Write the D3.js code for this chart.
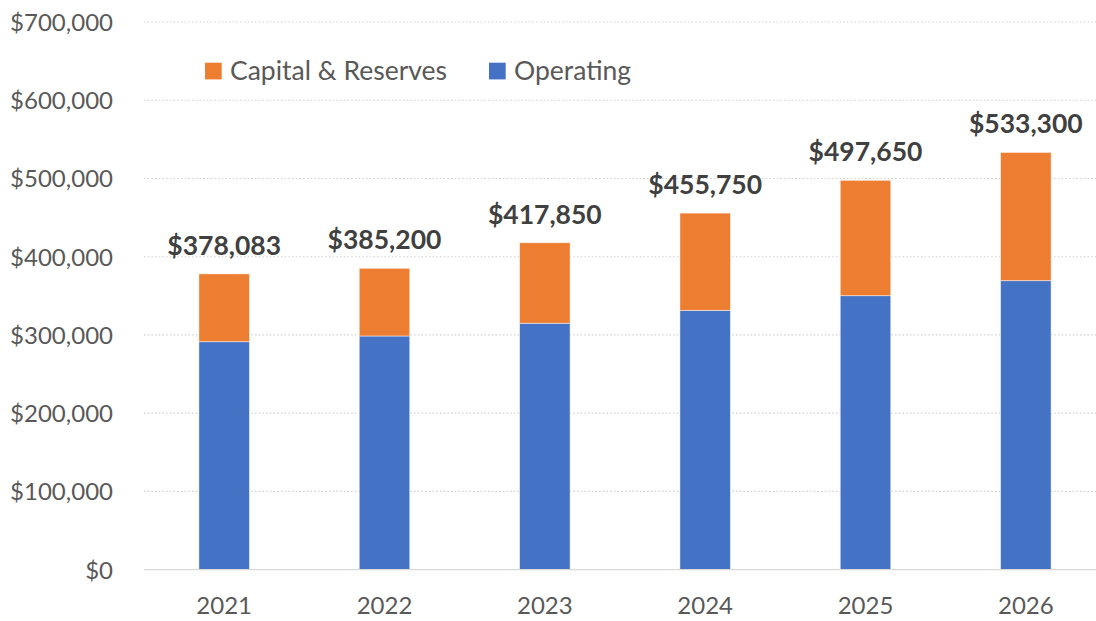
<!DOCTYPE html>
<html>
<head>
<meta charset="utf-8">
<script src="https://cdn.jsdelivr.net/npm/d3@7"></script>
<style>
  html, body { margin: 0; padding: 0; background: #fff; }
  svg { display: block; }
</style>
</head>
<body>
<svg id="chart" width="1096" height="621"></svg>
<script>
const years = ["2021", "2022", "2023", "2024", "2025", "2026"];
const operating = [291400, 298700, 315000, 331500, 350200, 369400];
const capital = [86683, 86500, 102850, 124250, 147450, 163900];
const totalLabels = ["$378,083", "$385,200", "$417,850", "$455,750", "$497,650", "$533,300"];
const yTicks = [0, 100000, 200000, 300000, 400000, 500000, 600000, 700000];
const seriesNames = ["Capital & Reserves", "Operating"];
const seriesColors = { "Operating": "#4472C4", "Capital & Reserves": "#ED7D31" };

(function () {
const svg = d3.select("#chart");
const font = "Lato, 'Open Sans', sans-serif";

const x = d3.scaleBand().domain(years).range([144, 1106]).paddingInner(0.685).paddingOuter(0.3425);
const y = d3.scaleLinear().domain([0, 700000]).range([569.7, 22]);

// gridlines
svg.append("g").selectAll("line").data(yTicks.filter(d => d > 0)).join("line")
  .attr("x1", 144).attr("x2", 1106)
  .attr("y1", d => y(d)).attr("y2", d => y(d))
  .attr("stroke", "#D0D0D0").attr("stroke-width", 1.2)
  .attr("stroke-dasharray", "1.5,2.2");

// y axis labels
const yAxis = d3.axisLeft(y).tickValues(yTicks).tickSize(0).tickPadding(0)
  .tickFormat(d => "$" + d3.format(",")(d));
const gy = svg.append("g").attr("transform", "translate(113,0)").call(yAxis);
gy.select(".domain").remove();
gy.selectAll("text").attr("font-family", font).attr("font-size", "24px")
  .attr("fill", "#595959").attr("dy", "0.35em");

// data
const rows = years.map((yr, i) => ({ year: yr, "Operating": operating[i], "Capital & Reserves": capital[i], label: totalLabels[i] }));
const stack = d3.stack().keys(["Operating", "Capital & Reserves"]);
const stacked = stack(rows);

svg.append("g").selectAll("g").data(stacked).join("g")
  .attr("fill", d => seriesColors[d.key])
  .selectAll("rect").data(d => d).join("rect")
  .attr("x", d => x(d.data.year))
  .attr("width", x.bandwidth())
  .attr("y", d => y(d[1]))
  .attr("height", d => y(d[0]) - y(d[1]))
  .attr("stroke", "#ffffff").attr("stroke-width", 0.8).attr("stroke-opacity", 0.6);

// baseline
svg.append("line").attr("x1", 144).attr("x2", 1106)
  .attr("y1", y(0)).attr("y2", y(0))
  .attr("stroke", "#D9D9D9").attr("stroke-width", 1.3);

// x axis labels
const xAxis = d3.axisBottom(x).tickSize(0).tickPadding(0);
const gx = svg.append("g").attr("transform", "translate(0,614)").call(xAxis);
gx.select(".domain").remove();
gx.selectAll("text").attr("font-family", font).attr("font-size", "24px")
  .attr("fill", "#595959").attr("dy", "0");

// total labels
const topSeries = stacked[stacked.length - 1];
svg.append("g").selectAll("text").data(topSeries).join("text")
  .attr("x", d => x(d.data.year) + x.bandwidth() / 2)
  .attr("y", d => y(d[1]) - 19)
  .attr("text-anchor", "middle")
  .attr("font-family", font).attr("font-size", "26.5px").attr("font-weight", "bold")
  .attr("fill", "#404040")
  .text(d => d.data.label);

// legend
const legendX = [205, 489];
const lg = svg.append("g").selectAll("g").data(seriesNames).join("g")
  .attr("transform", (d, i) => `translate(${legendX[i]},62.7)`);
lg.append("rect").attr("width", 16.7).attr("height", 16.7).attr("fill", d => seriesColors[d]);
lg.append("text").attr("x", 25).attr("y", 16.8)
  .attr("font-family", font).attr("font-size", "26.5px").attr("fill", "#595959")
  .text(d => d);
})();
</script>
</body>
</html>
